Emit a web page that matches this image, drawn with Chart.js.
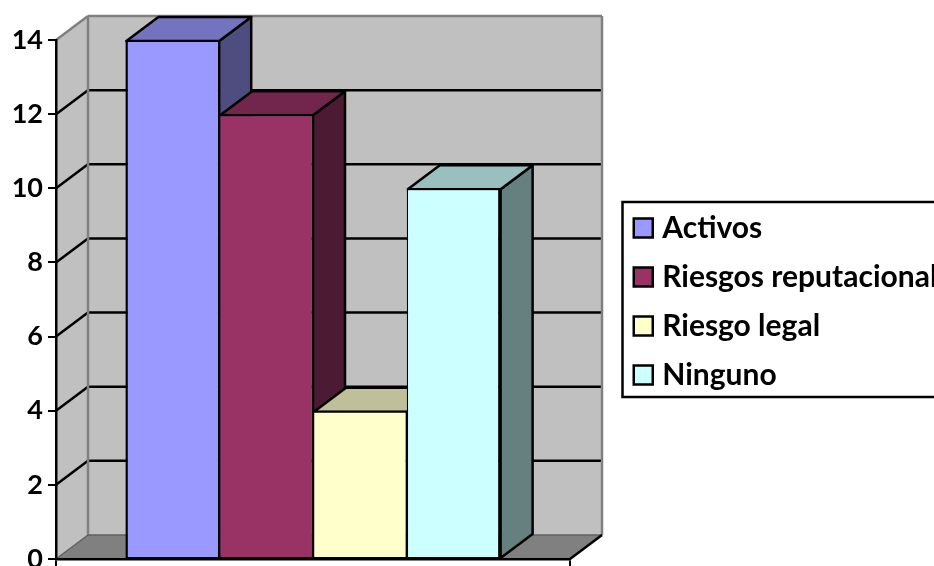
<!DOCTYPE html>
<html>
<head>
<meta charset="utf-8">
<style>
  html, body { margin: 0; padding: 0; background: #fff; overflow: hidden; }
  #wrap { width: 934px; height: 566px; }
</style>
<script src="https://cdn.jsdelivr.net/npm/chart.js@4"></script>
</head>
<body>
<div id="wrap"><canvas id="chart" width="934" height="566"></canvas></div>
<script>
// Survey results by risk type
const categories = [''];
const seriesNames = ['Activos', 'Riesgos reputacional', 'Riesgo legal', 'Ninguno'];
const activos = [14];
const riesgosReputacional = [12];
const riesgoLegal = [4];
const ninguno = [10];
const seriesValues = [activos, riesgosReputacional, riesgoLegal, ninguno];
const frontColors = ['#9999ff', '#993366', '#ffffcc', '#ccffff'];
const topColors = ['#7373bf', '#73264d', '#bfbf99', '#99bfbf'];
const sideColors = ['#4d4d80', '#4d1a33', '#808066', '#668080'];
const yTicks = [0, 2, 4, 6, 8, 10, 12, 14];

// Oblique projection used for the box faces and the walls
const DEPTH_X = 32;
const DEPTH_Y = 24;
const EDGE = 2.5;

function poly(ctx, pts, fill, stroke, width) {
  ctx.beginPath();
  pts.forEach((p, i) => (i ? ctx.lineTo(p[0], p[1]) : ctx.moveTo(p[0], p[1])));
  ctx.closePath();
  if (fill) { ctx.fillStyle = fill; ctx.fill(); }
  if (stroke) { ctx.strokeStyle = stroke; ctx.lineWidth = width; ctx.stroke(); }
}

function line(ctx, x1, y1, x2, y2, color, width) {
  ctx.beginPath();
  ctx.moveTo(x1, y1);
  ctx.lineTo(x2, y2);
  ctx.strokeStyle = color;
  ctx.lineWidth = width;
  ctx.stroke();
}

// Side wall, back wall, floor and the receding gridlines
const wallsPlugin = {
  id: 'walls',
  beforeDraw(chart) {
    const { ctx, chartArea: a, scales: { y } } = chart;
    ctx.save();
    ctx.lineJoin = 'miter';
    poly(ctx, [[a.left, a.top], [a.left + DEPTH_X, a.top - DEPTH_Y], [a.left + DEPTH_X, a.bottom - DEPTH_Y], [a.left, a.bottom]], '#c0c0c0');
    poly(ctx, [[a.left + DEPTH_X, a.top - DEPTH_Y], [a.right + DEPTH_X, a.top - DEPTH_Y], [a.right + DEPTH_X, a.bottom - DEPTH_Y], [a.left + DEPTH_X, a.bottom - DEPTH_Y]], '#c0c0c0');
    poly(ctx, [[a.left, a.bottom], [a.right, a.bottom], [a.right + DEPTH_X, a.bottom - DEPTH_Y], [a.left + DEPTH_X, a.bottom - DEPTH_Y]], '#808080');

    yTicks.slice(1, -1).forEach(v => {
      const py = y.getPixelForValue(v);
      line(ctx, a.left, py, a.left + DEPTH_X, py - DEPTH_Y, '#000', EDGE);
      line(ctx, a.left + DEPTH_X, py - DEPTH_Y, a.right + DEPTH_X, py - DEPTH_Y, '#000', EDGE);
    });

    // Wall frame
    line(ctx, a.left + DEPTH_X, a.top - DEPTH_Y, a.left + DEPTH_X, a.bottom - DEPTH_Y, '#808080', EDGE);
    line(ctx, a.left, a.top, a.left + DEPTH_X, a.top - DEPTH_Y, '#808080', EDGE);
    line(ctx, a.left + DEPTH_X, a.top - DEPTH_Y, a.right + DEPTH_X, a.top - DEPTH_Y, '#808080', EDGE);
    line(ctx, a.right + DEPTH_X, a.top - DEPTH_Y, a.right + DEPTH_X, a.bottom - DEPTH_Y, '#808080', EDGE);
    line(ctx, a.left + DEPTH_X, a.bottom - DEPTH_Y, a.right + DEPTH_X, a.bottom - DEPTH_Y, '#606060', 1.5);
    line(ctx, a.left, a.bottom, a.left + DEPTH_X, a.bottom - DEPTH_Y, '#606060', 1.5);
    line(ctx, a.right, a.bottom, a.right + DEPTH_X, a.bottom - DEPTH_Y, '#000', EDGE);

    // Legend frame
    ctx.strokeStyle = '#000';
    ctx.lineWidth = 2.5;
    ctx.strokeRect(622.5, 202, 340, 195);
    ctx.restore();
  },
  // Top and side faces go under the front faces, which the bar elements paint
  beforeDatasetsDraw(chart) {
    const { ctx } = chart;
    ctx.save();
    ctx.lineJoin = 'round';
    chart.data.datasets.forEach((ds, i) => {
      const bar = chart.getDatasetMeta(i).data[0];
      const half = bar.width / 2;
      const l = bar.x - half, r = bar.x + half, t = bar.y + 1, b = bar.base;
      poly(ctx, [[r, t], [r + DEPTH_X, t - DEPTH_Y], [r + DEPTH_X, b - DEPTH_Y], [r, b]], sideColors[i], '#000', EDGE);
      poly(ctx, [[l + 1, t], [l + 1 + DEPTH_X, t - DEPTH_Y], [r + DEPTH_X, t - DEPTH_Y], [r, t]], topColors[i], '#000', EDGE);
    });
    ctx.restore();
  },
  // Place the legend to the right of the plot
  afterLayout(chart) {
    const lg = chart.legend;
    const w = lg.width, h = lg.height;
    lg.left = 620.25;
    lg.right = 620.25 + w;
    lg.top = 194;
    lg.bottom = 194 + h;
  }
};

const lastIndex = seriesNames.length - 1;

new Chart(document.getElementById('chart'), {
  type: 'bar',
  data: {
    labels: categories,
    datasets: seriesNames.map((name, i) => ({
      label: name,
      data: seriesValues[i],
      backgroundColor: frontColors[i],
      borderColor: '#000',
      // Neighbouring bars share one edge, so inner sides carry half its width
      borderWidth: {
        left: i === 0 ? EDGE : EDGE / 2,
        right: i === lastIndex ? EDGE : EDGE / 2,
        top: 2,
        bottom: 1
      },
      borderSkipped: false,
      barPercentage: 1,
      categoryPercentage: 0.73
    }))
  },
  options: {
    responsive: false,
    animation: false,
    events: [],
    layout: { padding: { left: 0, right: 364, top: 40, bottom: 0 } },
    plugins: {
      tooltip: { enabled: false },
      legend: {
        position: 'chartArea',
        align: 'start',
        labels: {
          font: { family: 'Lato', weight: 'bold', size: 30 },
          color: '#000',
          usePointStyle: true,
          pointStyle: 'rect',
          boxWidth: 8,
          boxHeight: 19,
          padding: 19,
          generateLabels(chart) {
            return Chart.defaults.plugins.legend.labels.generateLabels(chart)
              .map(item => ({ ...item, lineWidth: EDGE, pointStyle: 'rect' }));
          }
        }
      }
    },
    scales: {
      x: {
        ticks: { display: false },
        grid: { drawOnChartArea: false, tickLength: 7, color: '#000', lineWidth: 2, offset: true },
        border: { color: '#000', width: 2.5 },
        afterFit(s) { s.height = 7; s.paddingLeft = 0; s.paddingRight = 0; }
      },
      y: {
        min: 0,
        max: 14,
        afterBuildTicks(s) { s.ticks = yTicks.map(v => ({ value: v })); },
        ticks: {
          color: '#000',
          font: { family: 'Lato', weight: 'bold', size: 27 },
          padding: 5,
          maxRotation: 0
        },
        grid: { drawOnChartArea: false, tickLength: 8, color: '#000', lineWidth: 2 },
        border: { color: '#000', width: 2.5 },
        afterFit(s) { s.width = 56; s.paddingTop = 0; s.paddingBottom = 0; }
      }
    }
  },
  plugins: [wallsPlugin]
});
</script>
</body>
</html>
